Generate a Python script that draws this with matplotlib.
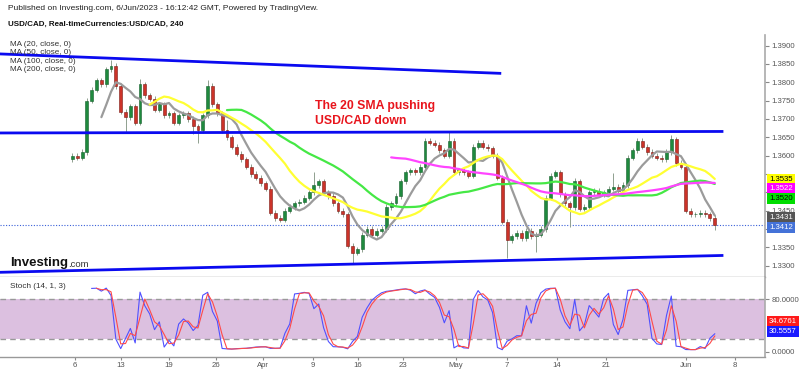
import numpy as np
import matplotlib
matplotlib.use("Agg")
import matplotlib.pyplot as plt
from matplotlib.transforms import blended_transform_factory

plt.rcParams["font.family"] = ["Liberation Sans", "DejaVu Sans"]

# USD/CAD, two candles per trading day, Mar 6 -> Jun 6 2023
closes = [
    1.3600, 1.3595,  # Mar 6
    1.3610, 1.3750,  # Mar 7
    1.3780, 1.3805,  # Mar 8
    1.3795, 1.3835,  # Mar 9
    1.3845, 1.3790,  # Mar 10
    1.3720, 1.3705,  # Mar 13
    1.3735, 1.3690,  # Mar 14
    1.3795, 1.3765,  # Mar 15
    1.3755, 1.3725,  # Mar 16
    1.3740, 1.3710,  # Mar 17
    1.3715, 1.3690,  # Mar 20
    1.3710, 1.3715,  # Mar 21
    1.3700, 1.3680,  # Mar 22
    1.3670, 1.3710,  # Mar 23
    1.3790, 1.3740,  # Mar 24
    1.3715, 1.3670,  # Mar 27
    1.3650, 1.3625,  # Mar 28
    1.3605, 1.3590,  # Mar 29
    1.3570, 1.3550,  # Mar 30
    1.3540, 1.3525,  # Mar 31
    1.3510, 1.3445,  # Apr 3
    1.3430, 1.3425,  # Apr 4
    1.3450, 1.3460,  # Apr 5
    1.3470, 1.3475,  # Apr 6
    1.3485, 1.3500,  # Apr 7
    1.3520, 1.3530,  # Apr 10
    1.3500, 1.3490,  # Apr 11
    1.3470, 1.3450,  # Apr 12
    1.3440, 1.3355,  # Apr 13
    1.3335, 1.3345,  # Apr 14
    1.3385, 1.3400,  # Apr 17
    1.3385, 1.3395,  # Apr 18
    1.3400, 1.3460,  # Apr 19
    1.3470, 1.3490,  # Apr 20
    1.3530, 1.3555,  # Apr 21
    1.3560, 1.3555,  # Apr 24
    1.3570, 1.3640,  # Apr 25
    1.3635, 1.3630,  # Apr 26
    1.3615, 1.3600,  # Apr 27
    1.3640, 1.3555,  # Apr 28
    1.3560, 1.3555,  # May 1
    1.3545, 1.3625,  # May 2
    1.3635, 1.3625,  # May 3
    1.3620, 1.3600,  # May 4
    1.3540, 1.3420,  # May 5
    1.3370, 1.3380,  # May 8
    1.3390, 1.3375,  # May 9
    1.3395, 1.3380,  # May 10
    1.3385, 1.3400,  # May 11
    1.3485, 1.3545,  # May 12
    1.3555, 1.3495,  # May 15
    1.3470, 1.3460,  # May 16
    1.3530, 1.3455,  # May 17
    1.3460, 1.3500,  # May 18
    1.3505, 1.3495,  # May 19
    1.3500, 1.3510,  # May 22
    1.3515, 1.3505,  # May 23
    1.3520, 1.3595,  # May 24
    1.3615, 1.3640,  # May 25
    1.3625, 1.3610,  # May 26
    1.3600, 1.3595,  # May 29
    1.3590, 1.3610,  # May 30
    1.3645, 1.3580,  # May 31
    1.3570, 1.3450,  # Jun 1
    1.3440, 1.3440,  # Jun 2
    1.3445, 1.3440,  # Jun 5
    1.3430, 1.3412,  # Jun 6
]
first_open = 1.3590
# candles with long wicks (index -> extreme)
spike_high = {8: 1.3862, 14: 1.3808, 28: 1.3806, 32: 1.3697, 50: 1.3555,
              78: 1.3668, 104: 1.3540, 112: 1.3553, 124: 1.3656}
spike_low = {11: 1.3665, 25: 1.3660, 26: 1.3635, 58: 1.3305, 90: 1.3320,
             96: 1.3337, 103: 1.3405, 133: 1.3397}

ma_labels = ["MA (20, close, 0)", "MA (50, close, 0)", "MA (100, close, 0)", "MA (200, close, 0)"]
ma_periods = [7, 17, 33, 67]   # 4h periods expressed in 12h candles
ma_colors = ["#9b9b9b", "#ffff33", "#45e845", "#ff44ff"]

stoch_k_len = 5
stoch_d_len = 2

# trend lines drawn on the chart (day index, price)
trend_days = [(-7.25, 44.5), (-7.25, 67.5), (-7.25, 67.5)]
trend_prices = [(1.38774, 1.38245), (1.36619, 1.36660), (1.32820, 1.33279)]

last_price = 1.3412
price_tags = [1.3535, 1.3522, 1.3520, 1.3431, 1.3412]
price_tag_bg = ["#ffff00", "#ff00ff", "#00dd00", "#555555", "#4472d8"]
price_tag_fg = ["black", "white", "black", "white", "white"]
price_tag_shift = [0, 4.4, 13.7, 0, 2.7]   # px down, to keep boxes apart
hidden_ticks = {1.3400, 1.3500, 1.3550}      # covered by the tags

stoch_tags = [34.6761, 30.5557]
stoch_tag_bg = ["#ff1a1a", "#1a1aff"]
stoch_tag_shift = [-7.3, 0]

tick_pos = [0.52, 5.28, 10.25, 15.11, 19.98, 25.16, 29.81, 34.47, 39.96, 45.24,
            50.41, 55.49, 63.77, 68.84]
tick_lbl = ["6", "13", "19", "26", "Apr", "9", "16", "23", "May", "7", "14", "21", "Jun", "8"]

W, H = 800, 371
fig = plt.figure(figsize=(W / 100, H / 100), dpi=100)
ax = fig.add_axes([0, 1 - 277 / H, 765 / W, (277 - 35) / H])
ax2 = fig.add_axes([0, 1 - 357 / H, 765 / W, 80 / H], sharex=ax)

n = len(closes)
xs = np.arange(n) * 0.5 + 0.25
c = np.array(closes)
o = np.r_[first_open, c[:-1]]
wick = 0.0007
hi = np.maximum(o, c) + wick
lo = np.minimum(o, c) - wick
for i, v in spike_high.items():
    hi[i] = v
for i, v in spike_low.items():
    lo[i] = v
up = c >= o

# candles
ax.vlines(xs, lo, hi, color="#8fa08f", lw=0.7, zorder=2)
ax.bar(xs, np.maximum(np.abs(c - o), 0.0002), bottom=np.minimum(o, c), width=0.3,
       color=np.where(up, "#1f8a3e", "#cc3329"),
       edgecolor=np.where(up, "#155f2b", "#7a1b16"), linewidth=0.4, zorder=3)

for p, col in zip(ma_periods, ma_colors):
    ma = np.convolve(c, np.ones(p) / p, mode="valid")
    ax.plot(xs[p - 1:], ma, color=col, lw=1.6, zorder=4, solid_capstyle="round")

for d, p in zip(trend_days, trend_prices):
    ax.plot(d, p, color="#0a0af0", lw=2, zorder=5)

ax.axhline(last_price, color="#3a60d8", lw=0.8, ls=(0, (1, 1.5)), zorder=1)


def price_fmt(v, pos):
    if any(abs(v - h) < 1e-6 for h in hidden_ticks):
        return ""
    return f"{v:.4f}"


ax.set_xlim(-7.246, 71.95)
ax.set_ylim(1.32692, 1.3929)
ax.yaxis.tick_right()
ax.set_yticks(np.arange(1.33, 1.3901, 0.005))
ax.yaxis.set_major_formatter(matplotlib.ticker.FuncFormatter(price_fmt))
ax.tick_params(axis="y", length=3, width=0.8, color="#888888", labelcolor="#555555",
               labelsize=5.6, pad=1.5)
ax.tick_params(axis="x", bottom=False, labelbottom=False)
for s in ["top", "left"]:
    ax.spines[s].set_visible(False)
ax.spines["right"].set_color("#aaaaaa")
ax.spines["right"].set_linewidth(1.2)
ax.spines["bottom"].set_color("#999999")
ax.spines["bottom"].set_linewidth(1)

tr = blended_transform_factory(ax.transAxes, ax.transData)
for v, bg, fg, sh in zip(price_tags, price_tag_bg, price_tag_fg, price_tag_shift):
    ax.annotate(f"{v:.4f}", xy=(1, v), xycoords=tr, xytext=(3, -sh * 0.72),
                textcoords="offset points", va="center", ha="left", fontsize=5.6,
                color=fg, annotation_clip=False, zorder=10,
                bbox=dict(boxstyle="square,pad=0.25", fc=bg, ec="none"))

# stochastic (14, 1, 3)
k = np.full(n, np.nan)
for i in range(stoch_k_len - 1, n):
    hh = hi[i - stoch_k_len + 1:i + 1].max()
    ll = lo[i - stoch_k_len + 1:i + 1].min()
    k[i] = 100 * (c[i] - ll) / (hh - ll)
dline = np.convolve(k, np.ones(stoch_d_len) / stoch_d_len, mode="full")[:n]

ax2.axhspan(20, 80, color="#dcc0e0", lw=0, zorder=0)
ax2.axhline(80, color="#999999", lw=1, ls=(0, (4, 3)), zorder=1)
ax2.axhline(20, color="#999999", lw=1, ls=(0, (4, 3)), zorder=1)
ax2.plot(xs, k, color="#5050ff", lw=0.8, zorder=3)
ax2.plot(xs, dline, color="#ff4a4a", lw=0.8, zorder=3)
ax2.set_ylim(-8.1, 114)
ax2.yaxis.tick_right()
ax2.set_yticks([0, 80])
ax2.yaxis.set_major_formatter(matplotlib.ticker.FormatStrFormatter("%.4f"))
ax2.tick_params(axis="y", length=3, width=0.8, color="#888888", labelcolor="#555555",
                labelsize=5.6, pad=1.5)
ax2.set_xticks(tick_pos)
ax2.set_xticklabels(tick_lbl)
ax2.tick_params(axis="x", length=2, color="#888888", labelcolor="#555555",
                labelsize=5.6, pad=1.5)
for s in ["top", "left"]:
    ax2.spines[s].set_visible(False)
ax2.spines["right"].set_color("#aaaaaa")
ax2.spines["right"].set_linewidth(1.2)
ax2.spines["bottom"].set_color("#999999")
ax2.spines["bottom"].set_linewidth(1)

tr2 = blended_transform_factory(ax2.transAxes, ax2.transData)
for v, bg, sh in zip(stoch_tags, stoch_tag_bg, stoch_tag_shift):
    ax2.annotate(f"{v:.4f}", xy=(1, v), xycoords=tr2, xytext=(3, -sh * 0.72),
                 textcoords="offset points", va="center", ha="left", fontsize=5.6,
                 color="white", annotation_clip=False, zorder=10,
                 bbox=dict(boxstyle="square,pad=0.25", fc=bg, ec="none"))


# texts
def ftext(x, y, s, **kw):
    fig.text(x / W, 1 - y / H, s, va="center", ha="left", **kw)


ftext(8, 9, "Published on Investing.com, 6/Jun/2023 - 16:12:42 GMT, Powered by TradingView.",
      fontsize=6, color="#222222")
ftext(8, 24, "USD/CAD, Real-timeCurrencies:USD/CAD, 240", fontsize=5.8,
      fontweight="bold", color="#111111")
for j, lab in enumerate(ma_labels):
    ftext(10, 44 + 8.6 * j, lab, fontsize=5.9, color="#333333")
ftext(315, 106, "The 20 SMA pushing", fontsize=8.8, fontweight="bold", color="#e8141c")
ftext(315, 121, "USD/CAD down", fontsize=8.8, fontweight="bold", color="#e8141c")
ftext(10, 263, "Investing", fontsize=9.5, fontweight="bold", color="#111111")
ftext(68, 264.5, ".com", fontsize=6.8, color="#333333")
ftext(10, 287, "Stoch (14, 1, 3)", fontsize=5.9, color="#333333")

fig.savefig("out.png", dpi=100)
